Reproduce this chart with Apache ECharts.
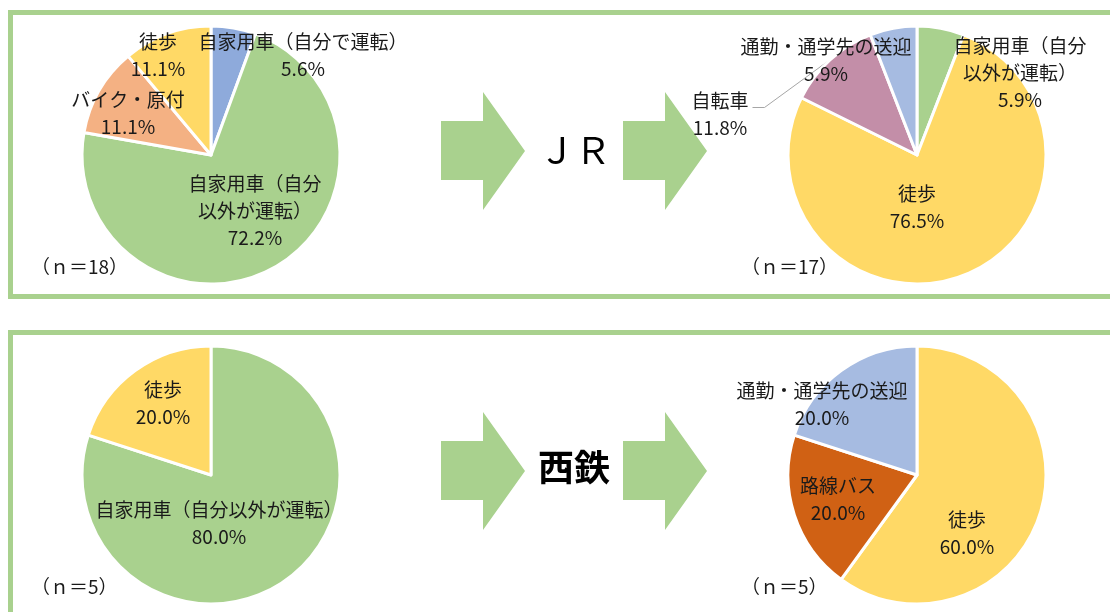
<!DOCTYPE html>
<html><head><meta charset="utf-8">
<script src="https://cdn.jsdelivr.net/npm/echarts@6/dist/echarts.min.js"></script>
<style>html,body{margin:0;padding:0;background:#fff}#c{width:1110px;height:612px}</style>
</head><body><div id="c"></div><script>
// ---- data ----
const jrBeforeNames = ['自家用車（自分で運転）', '自家用車（自分以外が運転）', 'バイク・原付', '徒歩'];
const jrBeforeValues = [5.6, 72.2, 11.1, 11.1];
const jrBeforeLabels = ['自家用車（自分で運転）', '自家用車（自分\n以外が運転）', 'バイク・原付', '徒歩'];

const jrAfterNames = ['自家用車（自分以外が運転）', '徒歩', '自転車', '通勤・通学先の送迎'];
const jrAfterValues = [5.9, 76.5, 11.8, 5.9];
const jrAfterLabels = ['自家用車（自分\n以外が運転）', '徒歩', '自転車', '通勤・通学先の送迎'];

const nishiBeforeNames = ['自家用車（自分以外が運転）', '徒歩'];
const nishiBeforeValues = [80.0, 20.0];
const nishiBeforeLabels = ['自家用車（自分以外が運転）', '徒歩'];

const nishiAfterNames = ['徒歩', '路線バス', '通勤・通学先の送迎'];
const nishiAfterValues = [60.0, 20.0, 20.0];
const nishiAfterLabels = ['徒歩', '路線バス', '通勤・通学先の送迎'];

const sampleSizes = [18, 17, 5, 5];
const railLabels = ['ＪＲ', '西鉄'];

// ---- styles / layout ----
const FONT = '"Noto Sans CJK JP", "Noto Sans", sans-serif';
const TXT = '#1a1a1a';
const GREEN = '#a9d18e';
const COLORS = {
  '自家用車（自分で運転）': '#8eaadb',
  '自家用車（自分以外が運転）': '#a9d18e',
  'バイク・原付': '#f4b183',
  '徒歩': '#ffd966',
  '自転車': '#c38ea8',
  '通勤・通学先の送迎': '#a6bbe1',
  '路線バス': '#d06114'
};
const R = 129;
const centers = [[211, 155], [917, 155], [211, 475], [917, 475]];
const offsets = [
  [[92, -100], [44, 56], [-83, -42], [-53, -100]],
  [[103, -82], [0, 52], [-197, -41], [-91, -95]],
  [[8, 48], [-48, -72]],
  [[50, 58], [-79, 24], [-95, -71]]
];

function pieSeries(names, values, labels, center, offs, leaderIndex) {
  return {
    type: 'pie', center: center, radius: R, startAngle: 90, clockwise: true,
    animation: false, silent: true, avoidLabelOverlap: false,
    itemStyle: { borderColor: '#fff', borderWidth: 3 },
    label: {
      show: true, position: 'inside', color: TXT, fontSize: 19, lineHeight: 27,
      fontFamily: FONT, align: 'center', overflow: 'none',
      formatter: p => labels[p.dataIndex] + '\n' + p.value.toFixed(1) + '%'
    },
    labelLine: { show: false },
    emphasis: { disabled: true },
    data: names.map((n, i) => ({
      name: n, value: values[i], itemStyle: { color: COLORS[n] },
      label: { position: i === leaderIndex ? 'outside' : 'inside' },
      labelLine: i === leaderIndex
        ? { show: true, length: 10, length2: 10, lineStyle: { color: '#a6a6a6', width: 1 } }
        : { show: false }
    })),
    labelLayout: function (p) {
      const o = offs[p.dataIndex];
      const res = { x: center[0] + o[0], y: center[1] + o[1], align: 'center', verticalAlign: 'middle' };
      if (p.dataIndex === leaderIndex && p.labelLinePoints) {
        const start = p.labelLinePoints[0];
        const w = p.labelRect.width, h = p.labelRect.height;
        const endX = res.x + w / 2 + 4;
        const endY = res.y - h / 2 + 27 / 2 + 7;
        res.labelLinePoints = [[start[0], start[1]], [endX + 12, endY], [endX, endY]];
      }
      return res;
    }
  };
}

function arrow(x0, yc) {
  return {
    type: 'polygon', silent: true,
    shape: { points: [[x0, yc - 30], [x0 + 42, yc - 30], [x0 + 42, yc - 59], [x0 + 84, yc], [x0 + 42, yc + 59], [x0 + 42, yc + 29], [x0, yc + 29]] },
    style: { fill: GREEN }
  };
}

const chart = echarts.init(document.getElementById('c'), null, { renderer: 'canvas' });
chart.setOption({
  backgroundColor: '#fff',
  animation: false,
  graphic: [
    { type: 'rect', silent: true, shape: { x: 10.5, y: 12.5, width: 1120, height: 284 }, style: { fill: 'none', stroke: GREEN, lineWidth: 5 } },
    { type: 'rect', silent: true, shape: { x: 10.5, y: 332.5, width: 1120, height: 300 }, style: { fill: 'none', stroke: GREEN, lineWidth: 5 } },
    arrow(441, 151), arrow(623, 151), arrow(441, 471), arrow(623, 471),
    { type: 'text', silent: true, x: 575, y: 150, style: { text: railLabels[0], fontSize: 36, fontFamily: FONT, fill: '#000', align: 'center', verticalAlign: 'middle' } },
    { type: 'text', silent: true, x: 574, y: 467, style: { text: railLabels[1], fontSize: 36, fontWeight: 'bold', fontFamily: FONT, fill: '#000', align: 'center', verticalAlign: 'middle' } },
    { type: 'text', silent: true, x: 31, y: 267, style: { text: '（ｎ＝' + sampleSizes[0] + '）', fontSize: 19, fontFamily: FONT, fill: TXT, verticalAlign: 'middle' } },
    { type: 'text', silent: true, x: 741, y: 267, style: { text: '（ｎ＝' + sampleSizes[1] + '）', fontSize: 19, fontFamily: FONT, fill: TXT, verticalAlign: 'middle' } },
    { type: 'text', silent: true, x: 31, y: 587, style: { text: '（ｎ＝' + sampleSizes[2] + '）', fontSize: 19, fontFamily: FONT, fill: TXT, verticalAlign: 'middle' } },
    { type: 'text', silent: true, x: 741, y: 587, style: { text: '（ｎ＝' + sampleSizes[3] + '）', fontSize: 19, fontFamily: FONT, fill: TXT, verticalAlign: 'middle' } }
  ],
  series: [
    pieSeries(jrBeforeNames, jrBeforeValues, jrBeforeLabels, centers[0], offsets[0], -1),
    pieSeries(jrAfterNames, jrAfterValues, jrAfterLabels, centers[1], offsets[1], 2),
    pieSeries(nishiBeforeNames, nishiBeforeValues, nishiBeforeLabels, centers[2], offsets[2], -1),
    pieSeries(nishiAfterNames, nishiAfterValues, nishiAfterLabels, centers[3], offsets[3], -1)
  ]
});
</script></body></html>
